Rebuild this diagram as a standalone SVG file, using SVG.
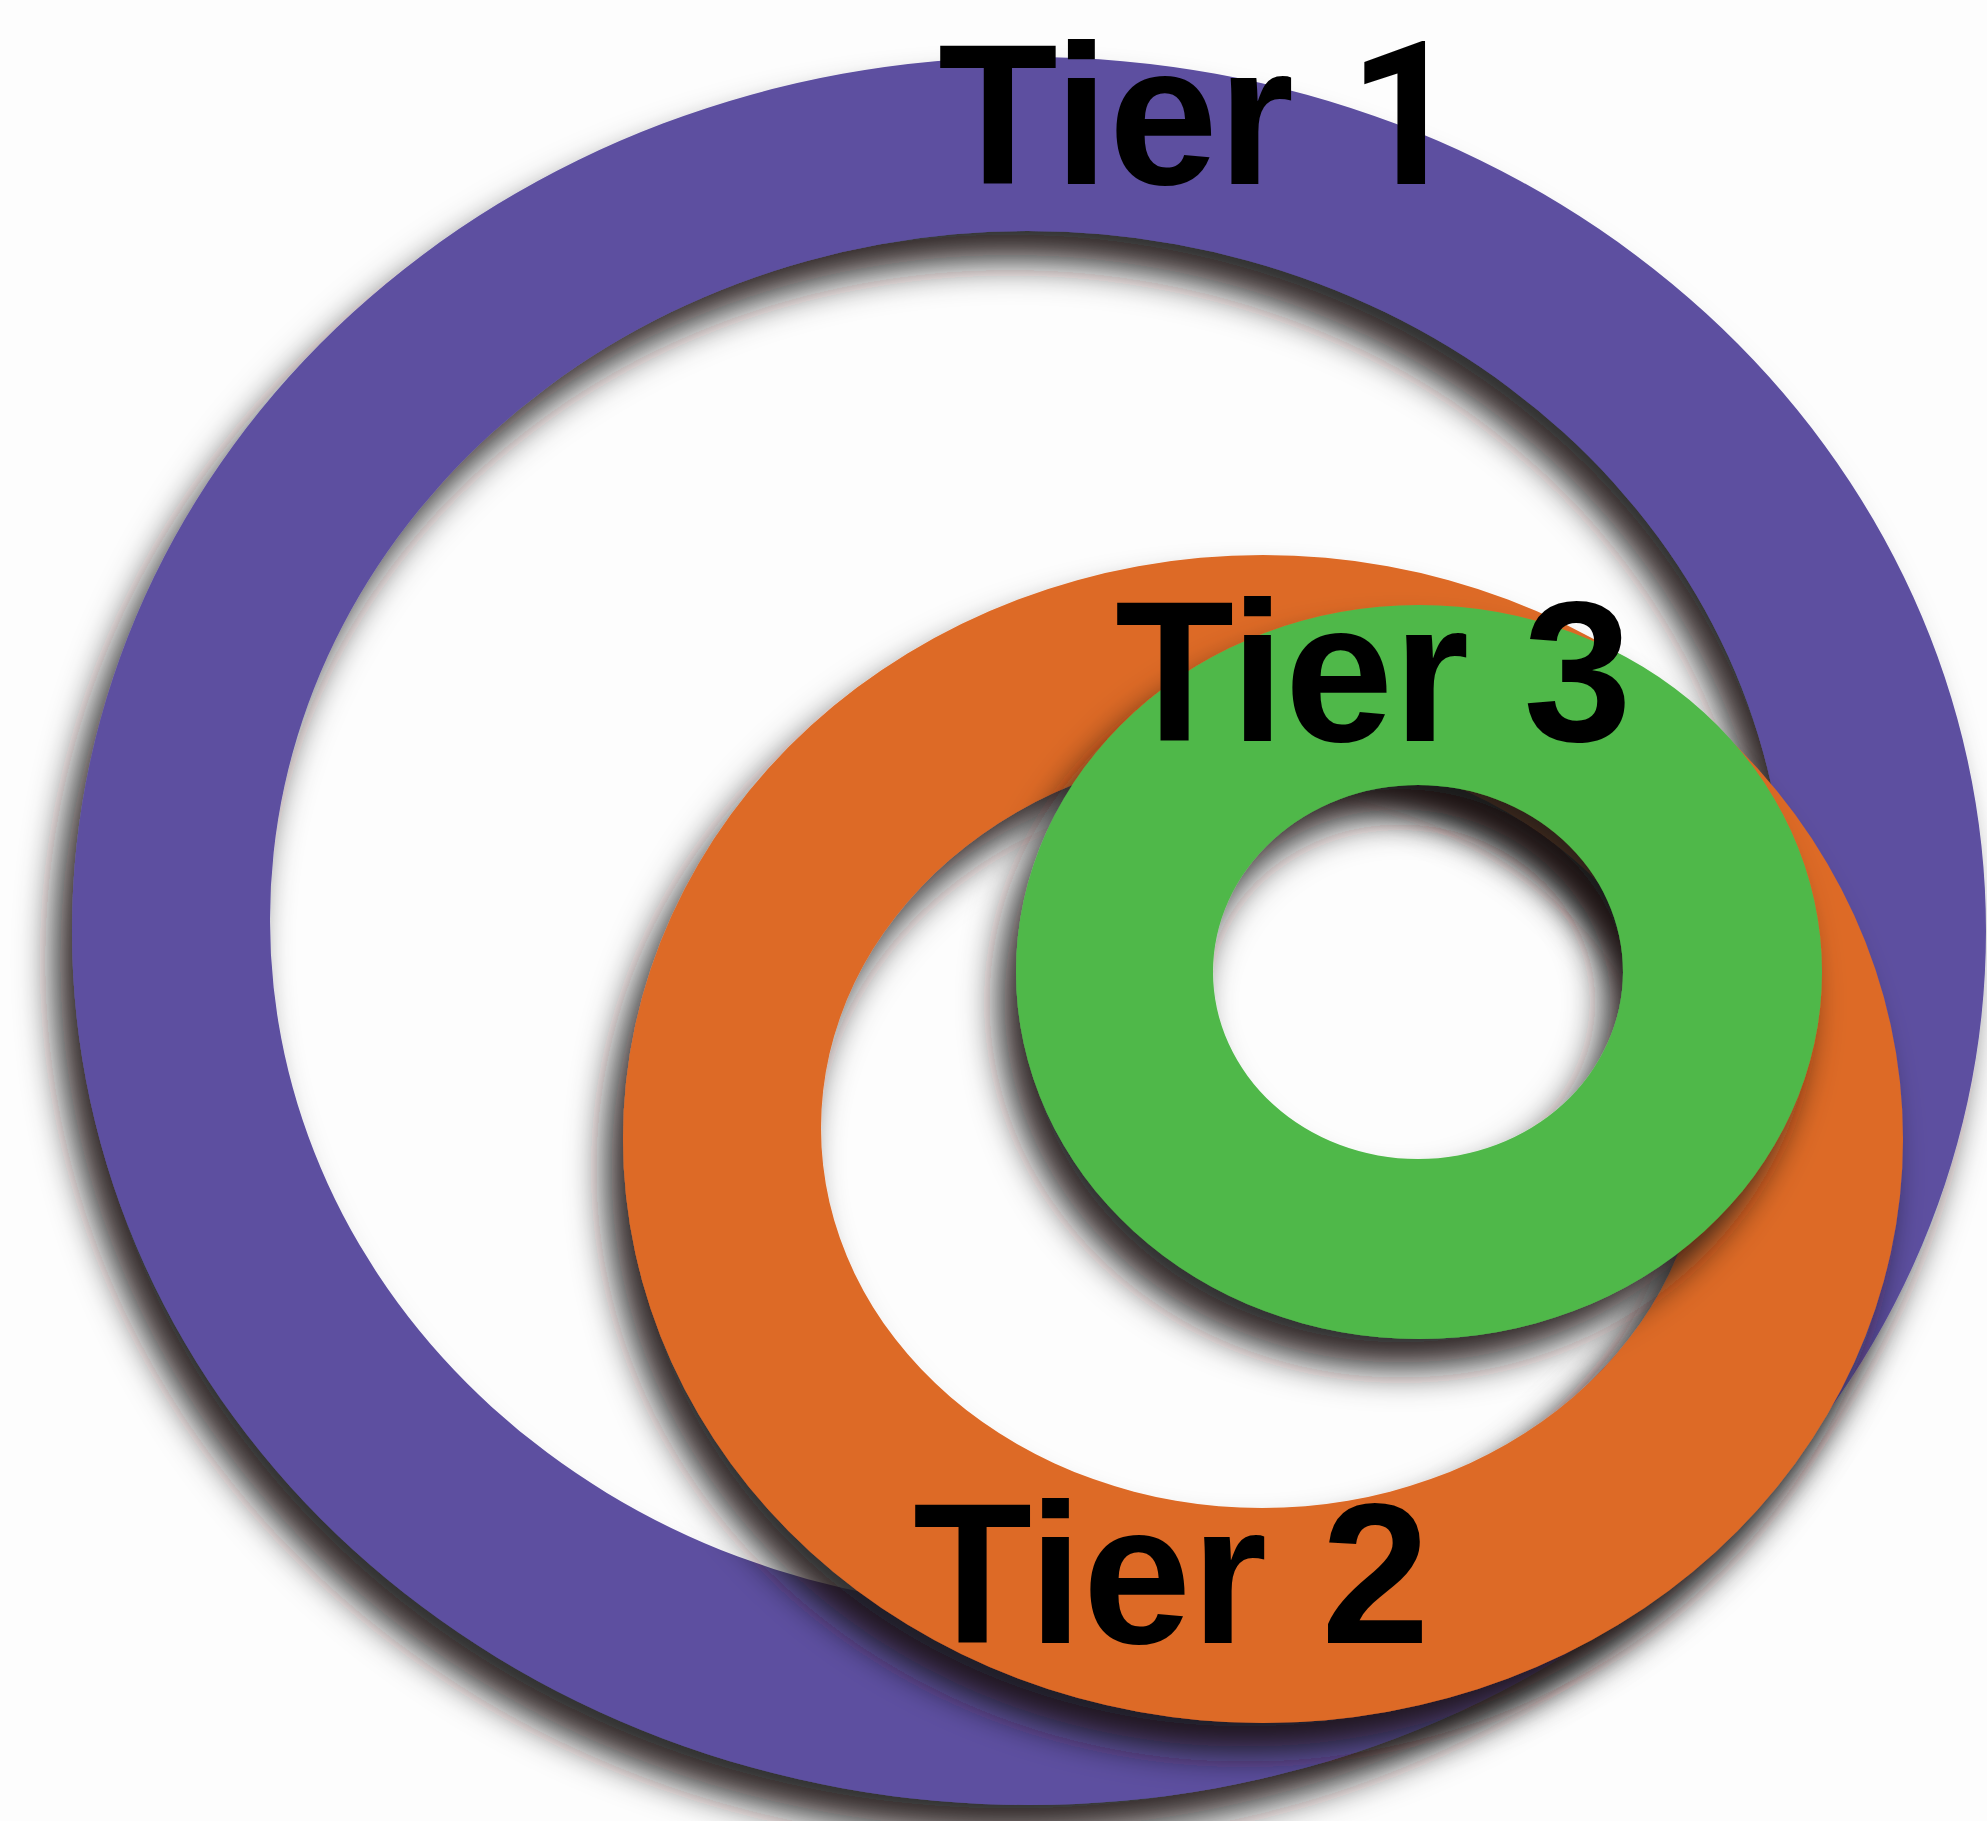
<svg xmlns="http://www.w3.org/2000/svg" width="1987" height="1821" viewBox="0 0 1987 1821">
<style>
.lbl{font-family:"Liberation Sans",Arial,sans-serif;font-weight:bold;font-size:200px;fill:#000}
.one{font-family:Roboto,"Liberation Sans",sans-serif}
</style>
<defs>
<filter id="sh" x="-20%" y="-20%" width="140%" height="140%">
<feGaussianBlur in="SourceAlpha" stdDeviation="18" result="b"/>
<feOffset in="b" dx="-18" dy="30" result="o"/>
<feFlood flood-color="#1a1414" flood-opacity="0.9"/>
<feComposite in2="o" operator="in" result="s"/>
<feMerge><feMergeNode in="s"/><feMergeNode in="SourceGraphic"/></feMerge>
</filter>
</defs>
<rect width="1987" height="1821" fill="#fdfdfd"/>
<g id="tier1" filter="url(#sh)">
<path fill="#5d50a0" fill-rule="evenodd" d="M72,931 a957,874 0 1,0 1914,0 a957,874 0 1,0 -1914,0 Z M270,920 a758,689 0 1,0 1516,0 a758,689 0 1,0 -1516,0 Z"/>
</g>
<g id="tier2" filter="url(#sh)">
<path fill="#dd6a27" fill-rule="evenodd" d="M623,1139 a640,584 0 1,0 1280,0 a640,584 0 1,0 -1280,0 Z M821,1128 a441,380 0 1,0 882,0 a441,380 0 1,0 -882,0 Z"/>
</g>
<g id="tier3" filter="url(#sh)">
<path fill="#50b84a" fill-rule="evenodd" d="M1016,972 a403,367 0 1,0 806,0 a403,367 0 1,0 -806,0 Z M1213,972 a205,187 0 1,0 410,0 a205,187 0 1,0 -410,0 Z"/>
</g>
<g id="labels">
<text class="lbl" transform="translate(938,184) scale(0.98,1)">Tier <tspan class="one">1</tspan></text>
<text class="lbl" transform="translate(1115,741) scale(0.975,1)">Tier 3</text>
<text class="lbl" transform="translate(913,1643) scale(0.975,1)">Tier 2</text>
</g>
</svg>
